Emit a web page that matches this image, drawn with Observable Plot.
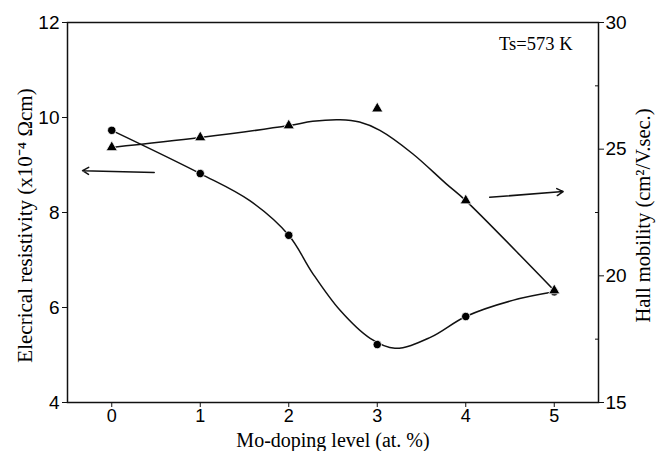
<!DOCTYPE html>
<html>
<head>
<meta charset="utf-8">
<script src="https://cdn.jsdelivr.net/npm/d3@7"></script>
<script src="https://cdn.jsdelivr.net/npm/@observablehq/plot@0.6"></script>
<style>
  html, body { margin: 0; padding: 0; background: #fff; }
  #chart svg { display: block; }
</style>
</head>
<body>
<div id="chart"></div>
<script>
// ---- data ----
const doping = [0, 1, 2, 3, 4, 5];
const resistivity = [9.73, 8.82, 7.52, 5.22, 5.81, 6.33];      // x10^-4 Ωcm (left axis)
const mobility = [25.07, 25.46, 25.93, 26.6, 22.97, 19.42];     // cm²/V.sec (right axis)

// smooth guide curves as drawn in the figure
const resCurveX = [0, 1, 1.56, 2, 2.27, 2.58, 2.92, 3.2, 3.6, 4, 4.53, 5];
const resCurveY = [9.73, 8.82, 8.25, 7.52, 6.72, 5.94, 5.35, 5.14, 5.37, 5.81, 6.15, 6.33];
const mobCurveX = [0, 1, 2, 2.27, 2.58, 2.8, 3.03, 3.4, 3.78, 4, 5];
const mobCurveY = [25.07, 25.46, 25.93, 26.1, 26.16, 26.07, 25.74, 24.82, 23.63, 22.97, 19.42];

// axis ticks
const xTicks = [0, 1, 2, 3, 4, 5];
const leftTicks = [4, 6, 8, 10, 12];
const rightTicks = [15, 20, 25, 30];
const rightMinorTicks = [17.5, 22.5, 27.5];

// arrows (x in doping units, y in resistivity units)
const arrowX1 = [0.48, 4.27];
const arrowY1 = [8.84, 8.32];
const arrowX2 = [-0.33, 5.10];
const arrowY2 = [8.88, 8.44];

// text
const xLabel = "Mo-doping level (at. %)";
const yLeftLabel = "Elecrical resistivity (x10\u207B\u2074 \u03A9cm)";
const yRightLabel = "Hall mobility (cm\u00B2/V.sec.)";
const note = "Ts=573 K";

// ---- mapping of right axis onto left scale ----
const leftDomain = [4, 12];
const rightDomain = [15, 30];
const toLeft = v => leftDomain[0] + (v - rightDomain[0]) * (leftDomain[1] - leftDomain[0]) / (rightDomain[1] - rightDomain[0]);
const fromLeft = v => rightDomain[0] + (v - leftDomain[0]) * (rightDomain[1] - rightDomain[0]) / (leftDomain[1] - leftDomain[0]);

const resPts = doping.map((x, i) => ({x, y: resistivity[i]}));
const mobPts = doping.map((x, i) => ({x, y: toLeft(mobility[i])}));
const resCurve = resCurveX.map((x, i) => ({x, y: resCurveY[i]}));
const mobCurve = mobCurveX.map((x, i) => ({x, y: toLeft(mobCurveY[i])}));
const arrows = arrowX1.map((x1, i) => ({x1, y1: arrowY1[i], x2: arrowX2[i], y2: arrowY2[i]}));

const sans = "'Liberation Sans', Arial, sans-serif";
const serif = "'Liberation Serif', 'Times New Roman', serif";

const chart = Plot.plot({
  width: 656,
  height: 451,
  marginLeft: 67,
  marginRight: 58,
  marginTop: 22,
  marginBottom: 49,
  style: {fontFamily: sans, fontSize: "18px", color: "#000", background: "#fff"},
  x: {domain: [-0.5, 5.5]},
  y: {domain: leftDomain},
  marks: [
    Plot.frame({stroke: "#111", strokeWidth: 1.5}),
    Plot.axisX(xTicks, {tickSize: 5, tickPadding: 2, fontSize: 18, label: null, stroke: "#111", fill: "#000"}),
    Plot.axisY(leftTicks, {anchor: "left", tickSize: 5, tickPadding: 3, fontSize: 19, label: null, stroke: "#111", fill: "#000"}),
    Plot.axisY(rightTicks.map(toLeft), {anchor: "right", tickSize: 5, tickPadding: 2, fontSize: 19, label: null, stroke: "#111", fill: "#000",
      tickFormat: d => String(Math.round(fromLeft(d)))}),
    Plot.axisY(rightMinorTicks.map(toLeft), {anchor: "right", tickSize: -4, label: null, stroke: "#111", tickFormat: () => ""}),
    Plot.line(resCurve, {x: "x", y: "y", curve: "catmull-rom", stroke: "#111", strokeWidth: 1.5}),
    Plot.line(mobCurve, {x: "x", y: "y", curve: "catmull-rom", stroke: "#111", strokeWidth: 1.5}),
    Plot.dot(resPts, {x: "x", y: "y", r: 4.2, fill: "#000", stroke: "#fff", strokeWidth: 0.8}),
    Plot.dot(mobPts, {x: "x", y: "y", r: 4.2, symbol: "triangle", fill: "#000", stroke: "#fff", strokeWidth: 0.8}),
    Plot.arrow(arrows, {x1: "x1", y1: "y1", x2: "x2", y2: "y2", bend: 0, headLength: 7, stroke: "#111", strokeWidth: 1.5}),
    Plot.text([note], {text: d => d, frameAnchor: "top-right", textAnchor: "end", lineAnchor: "top", dx: -26, dy: 14,
      fontFamily: serif, fontSize: 18.5, fill: "#000"}),
    Plot.text([xLabel], {text: d => d, frameAnchor: "bottom", textAnchor: "middle", lineAnchor: "bottom", dy: 44,
      fontFamily: serif, fontSize: 20, fill: "#000"}),
    Plot.text([yLeftLabel], {text: d => d, frameAnchor: "left", textAnchor: "middle", rotate: -90, lineAnchor: "middle", dx: -42, dy: 13,
      fontFamily: serif, fontSize: 21, fill: "#000"}),
    Plot.text([yRightLabel], {text: d => d, frameAnchor: "right", textAnchor: "middle", rotate: -90, lineAnchor: "middle", dx: 45, dy: 3,
      fontFamily: serif, fontSize: 20.5, fill: "#000"})
  ]
});
document.getElementById("chart").appendChild(chart);
</script>
</body>
</html>
